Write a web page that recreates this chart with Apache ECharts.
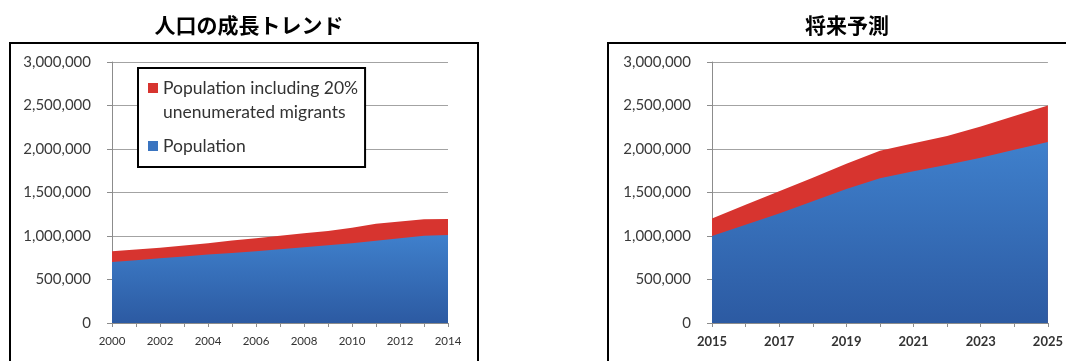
<!DOCTYPE html>
<html>
<head>
<meta charset="utf-8">
<script src="https://cdn.jsdelivr.net/npm/echarts@6/dist/echarts.min.js"></script>
<style>
  html, body { margin: 0; padding: 0; background: #fff; }
  #chart { width: 1066px; height: 361px; }
</style>
</head>
<body>
<div id="chart"></div>
<script>
// Population trend 2000-2014
const pastYears = ['2000','2001','2002','2003','2004','2005','2006','2007','2008','2009','2010','2011','2012','2013','2014'];
const pastPopulation = [700000, 722000, 743000, 765000, 786000, 806000, 825000, 848000, 872000, 895000, 918000, 945000, 973000, 1004000, 1012000];
const pastWithMigrants = [825000, 845000, 864000, 891000, 918000, 947000, 975000, 1002000, 1031000, 1058000, 1095000, 1140000, 1167000, 1192000, 1195000];

// Projection 2015-2025
const futureYears = ['2015','2016','2017','2018','2019','2020','2021','2022','2023','2024','2025'];
const futurePopulation = [1000000, 1130000, 1260000, 1400000, 1540000, 1665000, 1745000, 1820000, 1900000, 1990000, 2080000];
const futureWithMigrants = [1200000, 1360000, 1515000, 1670000, 1830000, 1980000, 2065000, 2150000, 2260000, 2380000, 2500000];

const yTicks = { min: 0, max: 3000000, interval: 500000 };

const NAME_TOTAL = 'Population including 20%\nunenumerated migrants';
const NAME_POP = 'Population';

const RED = '#d7342f';
const BLUE = '#3a74c0';
const blueFill = {
  type: 'linear', x: 0, y: 0, x2: 0, y2: 1,
  colorStops: [{ offset: 0, color: '#3f80cc' }, { offset: 1, color: '#2c5aa2' }]
};

const chart = echarts.init(document.getElementById('chart'), null, { renderer: 'canvas' });

function yAxis(gridIndex) {
  return {
    type: 'value', gridIndex,
    min: yTicks.min, max: yTicks.max, interval: yTicks.interval,
    axisLine: { show: true, lineStyle: { color: '#8c8c8c', width: 1 } },
    axisTick: { show: true, length: 5, lineStyle: { color: '#8c8c8c' } },
    splitLine: { show: true, lineStyle: { color: '#a3a3a3', width: 1 } },
    axisLabel: {
      margin: 21, color: '#3a3a3a', fontFamily: 'Lato', fontSize: 15,
      formatter: v => v.toLocaleString('en-US')
    }
  };
}

function xAxis(gridIndex, years, labelSize, labelWeight) {
  return {
    type: 'category', gridIndex, data: years, boundaryGap: false,
    axisLine: { show: true, lineStyle: { color: '#8c8c8c', width: 1 } },
    axisTick: { show: true, interval: 0, length: 4, lineStyle: { color: '#8c8c8c' } },
    splitLine: { show: false },
    axisLabel: {
      interval: 1, margin: 12, color: '#333', fontFamily: 'Lato',
      fontSize: labelSize, fontWeight: labelWeight
    }
  };
}

function area(name, data, idx, color, fill, z) {
  return {
    type: 'line', name, data, xAxisIndex: idx, yAxisIndex: idx,
    symbol: 'none', smooth: false, z,
    lineStyle: { width: 0, opacity: 0 },
    itemStyle: { color },
    areaStyle: { color: fill, opacity: 1 },
    emphasis: { disabled: true }
  };
}

const titleStyle = { fontFamily: 'Noto Sans CJK JP', fontSize: 21, fontWeight: 'bold', color: '#000' };

chart.setOption({
  animation: false,
  backgroundColor: '#fff',
  title: [
    { text: '人口の成長トレンド', left: 244, top: 10, textAlign: 'center', textStyle: titleStyle },
    { text: '将来予測', left: 842, top: 10, textAlign: 'center', textStyle: titleStyle }
  ],
  grid: [
    { left: 112, top: 62, width: 336, height: 261, containLabel: false },
    { left: 712, top: 62, width: 336, height: 261, containLabel: false }
  ],
  xAxis: [xAxis(0, pastYears, 11.5, 'normal'), xAxis(1, futureYears, 13, 'bold')],
  yAxis: [yAxis(0), yAxis(1)],
  legend: {
    orient: 'vertical', left: 138, top: 68,
    padding: [8, 7, 4, 10], itemGap: 5,
    itemWidth: 10, itemHeight: 34,
    backgroundColor: '#fff', borderColor: '#000', borderWidth: 2, borderRadius: 0,
    selectedMode: false,
    textStyle: { fontFamily: 'Lato', fontSize: 17.5, color: '#333', lineHeight: 24 },
    data: [
      { name: NAME_TOTAL, icon: 'path://M0,0h10v10h-10zM0,34L0.01,34' },
      { name: NAME_POP, icon: 'path://M0,12h10v10h-10zM0,0L0.01,0M0,34L0.01,34' }
    ]
  },
  graphic: [
    { type: 'rect', shape: { x: 10, y: 43, width: 468, height: 340 }, style: { fill: 'none', stroke: '#000', lineWidth: 2 }, silent: true },
    { type: 'rect', shape: { x: 608, y: 43, width: 468, height: 340 }, style: { fill: 'none', stroke: '#000', lineWidth: 2 }, silent: true }
  ],
  series: [
    area(NAME_TOTAL, pastWithMigrants, 0, RED, RED, 2),
    area(NAME_POP, pastPopulation, 0, BLUE, blueFill, 3),
    area(NAME_TOTAL, futureWithMigrants, 1, RED, RED, 2),
    area(NAME_POP, futurePopulation, 1, BLUE, blueFill, 3)
  ]
});
</script>
</body>
</html>
